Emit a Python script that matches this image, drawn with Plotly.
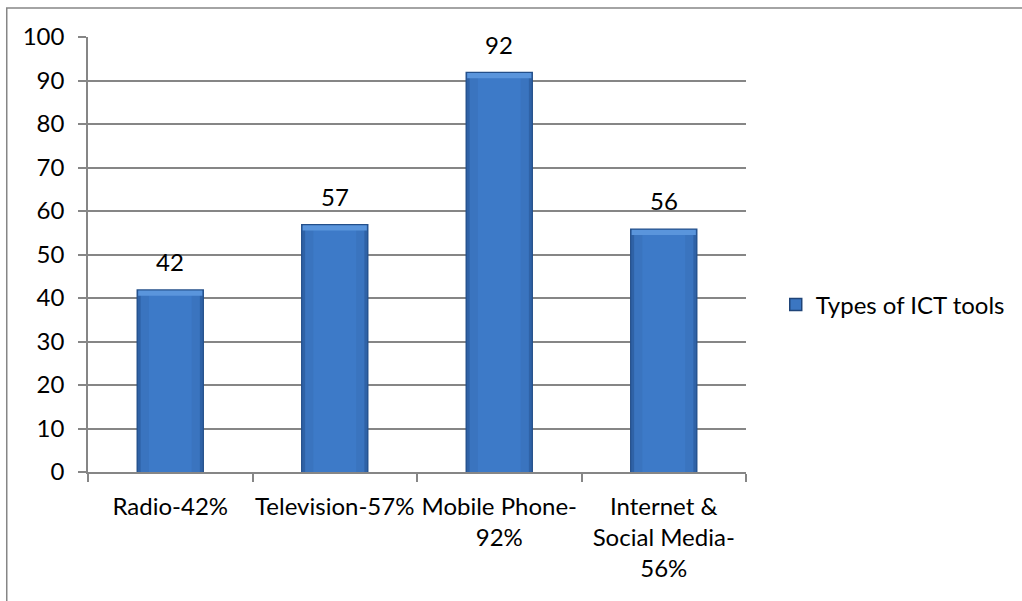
import plotly.graph_objects as go

categories = ["Radio-42%", "Television-57%", "Mobile Phone-92%", "Internet & Social Media-56%"]
tick_labels = ["Radio-42%", "Television-57%", "Mobile Phone-<br>92%", "Internet &<br>Social Media-<br>56%"]
values = [42, 57, 92, 56]
series_name = "Types of ICT tools"
y_ticks = [0, 10, 20, 30, 40, 50, 60, 70, 80, 90, 100]

W, H = 1022, 601
ML, MR, MT, MB = 88, 270, 37, 129
PW, PH = W - ML - MR, H - MT - MB
FONT = "Lato"
FS = 24


def px_x(px):
    return (px - ML) / PW


def px_y(py):
    return (H - MB - py) / PH


fig = go.Figure()

# outer dark edge
fig.add_trace(go.Bar(x=categories, y=values, width=0.41, marker=dict(color="#234f8a", line=dict(width=0)),
                     name=series_name, showlegend=False, hoverinfo="skip"))
# mid layer
fig.add_trace(go.Bar(x=categories, y=[v - 0.4 for v in values], width=0.395,
                     marker=dict(color="#2f62a6", line=dict(width=0)), showlegend=False, hoverinfo="skip"))
# main face
fig.add_trace(go.Bar(x=categories, y=[v - 0.9 for v in values], width=0.36,
                     marker=dict(color="#3a74bf", line=dict(width=0)), showlegend=False, hoverinfo="skip"))
# center highlight
fig.add_trace(go.Bar(x=categories, y=[v - 1.2 for v in values], width=0.26,
                     marker=dict(color="#3d7ac8", line=dict(width=0)), showlegend=False, hoverinfo="skip"))
# top bevel
fig.add_trace(go.Bar(x=categories, y=[1.2] * len(values), base=[v - 1.5 for v in values], width=0.39,
                     marker=dict(color="#5a95dc", line=dict(width=0)), showlegend=False, hoverinfo="skip"))

# legend entry
fig.add_trace(go.Bar(x=[categories[0]], y=[None], name=series_name,
                     marker=dict(color="#3b76c2", line=dict(color="#1f4478", width=1.5)), showlegend=True))

for c, v in zip(categories, values):
    fig.add_annotation(x=c, y=v, text=str(v), showarrow=False, yanchor="bottom", yshift=11,
                       font=dict(family=FONT, size=FS, color="#000000"))

# outer chart border
fig.add_shape(type="rect", xref="paper", yref="paper",
              x0=px_x(6), x1=px_x(W + 10), y0=px_y(H + 10), y1=px_y(8),
              line=dict(color="#868686", width=1.5), layer="below")

fig.update_layout(
    width=W, height=H,
    margin=dict(l=ML, r=MR, t=MT, b=MB, pad=0),
    paper_bgcolor="white", plot_bgcolor="white",
    barmode="overlay", bargap=0.59,
    font=dict(family=FONT, size=FS, color="#000000"),
    showlegend=True,
    legend=dict(x=px_x(782), y=px_y(305), xanchor="left", yanchor="middle",
                font=dict(family=FONT, size=FS, color="#000000"), itemwidth=30, bgcolor="rgba(0,0,0,0)"),
    xaxis=dict(tickmode="array", tickvals=categories, ticktext=tick_labels,
               showline=True, linecolor="#868686", linewidth=1.5,
               ticks="outside", ticklen=8, tickcolor="#868686", tickwidth=1.5,
               showgrid=False, tickson="boundaries", tickangle=0,
               ticklabelstandoff=12),
    yaxis=dict(range=[0, 100], tickvals=y_ticks, showline=True, linecolor="#868686", linewidth=1.5,
               ticks="outside", ticklen=8, tickcolor="#868686", tickwidth=1.5,
               showgrid=True, gridcolor="#868686", gridwidth=1.5, zeroline=False,
               ticklabelstandoff=9),
)

fig.write_html("out.html")
